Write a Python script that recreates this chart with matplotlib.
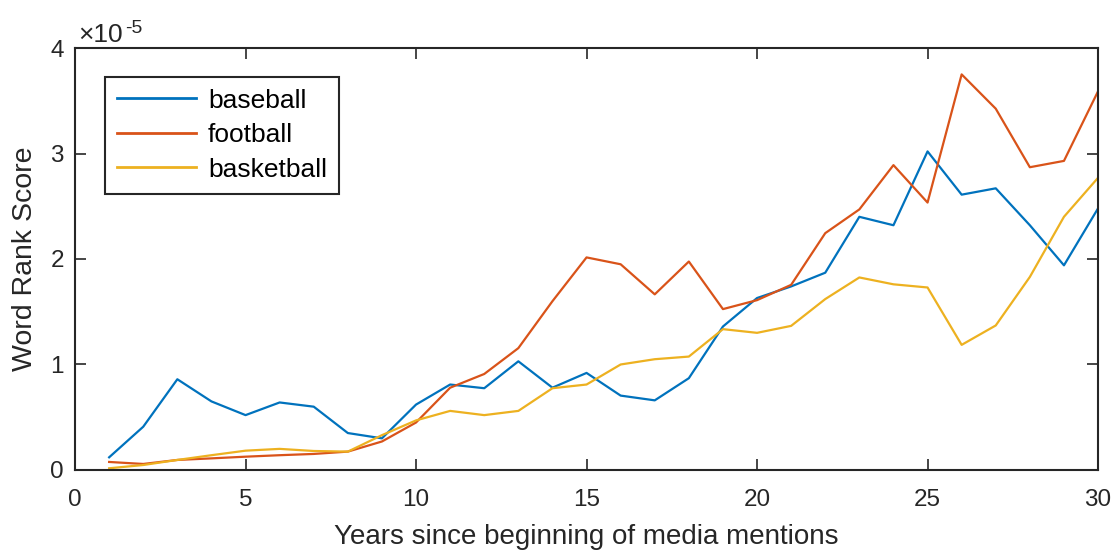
import numpy as np
import matplotlib.pyplot as plt

plt.rcParams['font.family'] = ['Liberation Sans', 'DejaVu Sans']

years = np.arange(1, 31)

# word rank score, in units of 1e-5
baseball = [0.12, 0.41, 0.86, 0.65, 0.52, 0.64, 0.60, 0.35, 0.30, 0.62,
            0.81, 0.775, 1.03, 0.78, 0.92, 0.705, 0.66, 0.87, 1.36, 1.63,
            1.74, 1.87, 2.40, 2.32, 3.02, 2.61, 2.67, 2.32, 1.94, 2.48]
football = [0.076, 0.057, 0.095, 0.11, 0.126, 0.14, 0.152, 0.174, 0.27, 0.45,
            0.78, 0.91, 1.155, 1.60, 2.015, 1.95, 1.665, 1.976, 1.525, 1.61,
            1.755, 2.245, 2.47, 2.89, 2.535, 3.75, 3.425, 2.87, 2.93, 3.59]
basketball = [0.016, 0.047, 0.095, 0.14, 0.183, 0.20, 0.18, 0.174, 0.33, 0.47,
              0.56, 0.52, 0.56, 0.775, 0.81, 1.00, 1.05, 1.075, 1.335, 1.30,
              1.366, 1.62, 1.825, 1.76, 1.73, 1.186, 1.37, 1.83, 2.40, 2.77]

series = {'baseball': baseball, 'football': football, 'basketball': basketball}
colors = ['#0072BD', '#D95319', '#EDB120']

fig = plt.figure(figsize=(11.15, 5.52), dpi=100)
ax = fig.add_axes([0.0673, 0.1486, 0.9175, 0.7644])

for (name, vals), c in zip(series.items(), colors):
    ax.plot(years, vals, color=c, linewidth=1.6, label=name)

ax.set_xlim(0, 30)
ax.set_ylim(0, 4)
ax.set_xticks(range(0, 31, 5))
ax.set_yticks(range(0, 5))

edge = '#262626'
for s in ax.spines.values():
    s.set_color(edge)
    s.set_linewidth(1.5)
ax.tick_params(direction='in', length=8, width=1.2, color=edge,
               labelsize=17.5, labelcolor=edge, top=True, right=True)
ax.tick_params(axis='x', pad=14)
ax.tick_params(axis='y', pad=8)

ax.set_xlabel('Years since beginning of media mentions', fontsize=20, color=edge, labelpad=9)
ax.set_ylabel('Word Rank Score', fontsize=20.5, color=edge, labelpad=9)

# exponent label, MATLAB style
ax.annotate('\u00d710', xy=(0, 1), xycoords='axes fraction', xytext=(2.5, 4.5),
            textcoords='offset points', fontsize=19, color=edge, va='baseline', ha='left')
ax.annotate('-5', xy=(0, 1), xycoords='axes fraction', xytext=(36, 11),
            textcoords='offset points', fontsize=14, color=edge, va='baseline', ha='left')

leg = ax.legend(loc='upper left', bbox_to_anchor=(0.0293, 0.932), borderaxespad=0,
                fontsize=19, frameon=True, fancybox=False, handlelength=3.0,
                borderpad=0.45, labelspacing=0.4, handletextpad=0.45)
leg.get_frame().set_edgecolor(edge)
leg.get_frame().set_linewidth(1.5)
leg.get_frame().set_alpha(1)
for line in leg.get_lines():
    line.set_linewidth(2)

fig.savefig('out.png', dpi=100)
